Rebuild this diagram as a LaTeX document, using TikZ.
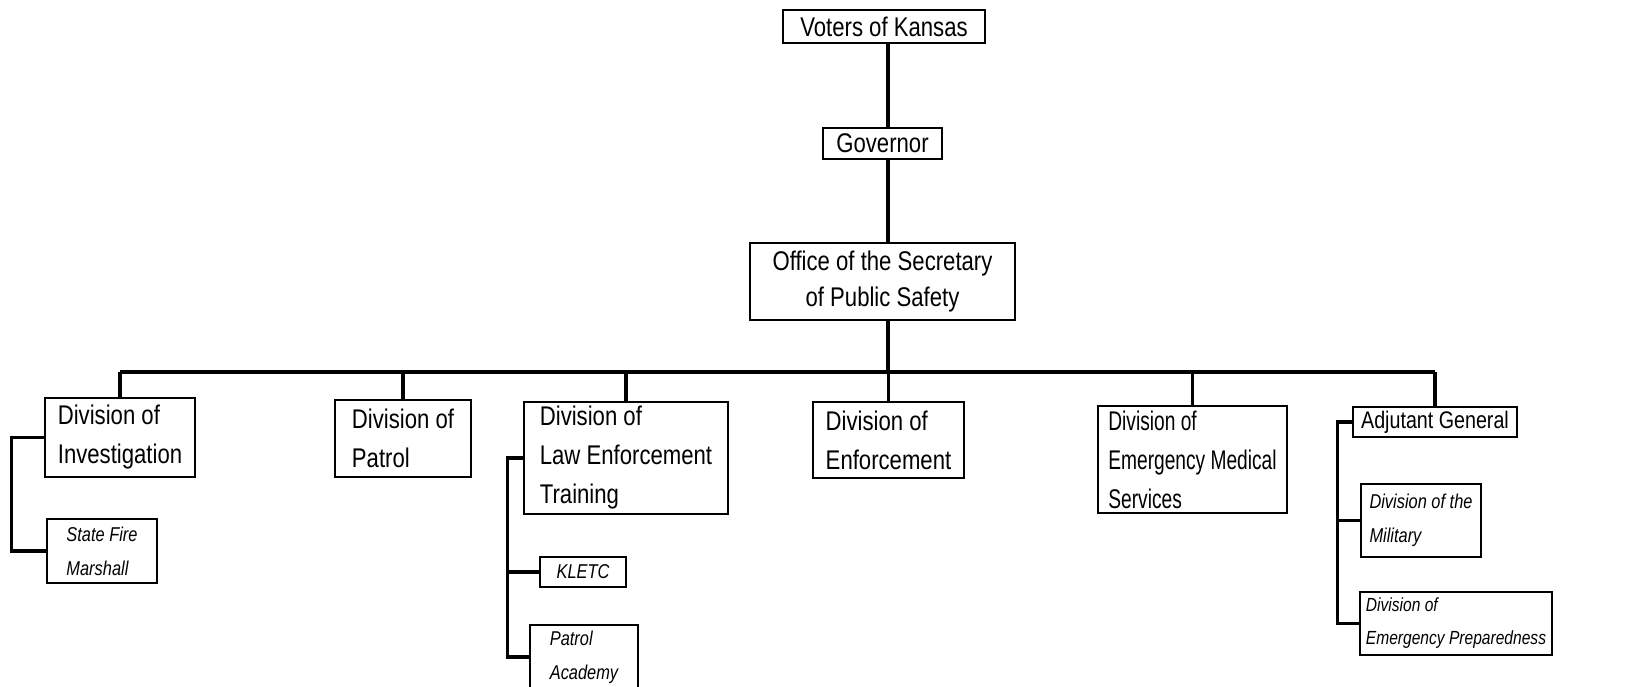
\documentclass[tikz,border=0pt]{standalone}
\usepackage{fontspec}
\setmainfont{Liberation Sans}[FakeStretch=0.82]
\newfontfamily\narrowfont{Liberation Sans}[FakeStretch=0.71]
\usepackage{tikz}

\begin{document}
\begin{tikzpicture}[x=0.5pt,y=-0.5pt,
    box/.style={draw,line width=1.4pt,inner sep=0pt,align=left},
    topbox/.style={box,align=center,font=\fontsize{13.5}{18}\selectfont},
    divbox/.style={box,font=\fontsize{13.5}{19.5}\selectfont},
    subbox/.style={box,font=\fontsize{10}{17}\selectfont\itshape},
    link/.style={line width=1.8pt}]
    \useasboundingbox (0,0) rectangle (1633,686);

    % Top of the chart
    \node[topbox,minimum width=101pt,minimum height=16.5pt] (voters) at (884,26.5) {Voters of Kansas};
    \node[topbox,minimum width=59.5pt,minimum height=15.5pt] (governor) at (882.5,143.5) {Governor};
    \node[topbox,minimum width=132.5pt,minimum height=38.5pt] (office) at (882.5,281.5) {Office of the Secretary\\of Public Safety};

    % Divisions
    \node[divbox,minimum width=75pt,minimum height=39.5pt] (invest) at (120,437.5) {Division of\\Investigation};
    \node[divbox,minimum width=68pt,minimum height=38.5pt] (patrol) at (403,438.5) {Division of\\Patrol};
    \node[divbox,minimum width=102pt,minimum height=56pt] (let) at (626,458) {Division of\\Law Enforcement\\Training};
    \node[divbox,minimum width=75.5pt,minimum height=38pt] (enforce) at (888.5,440) {Division of\\Enforcement};
    \node[divbox,font=\fontsize{13.5}{19.5}\narrowfont,minimum width=94.5pt,minimum height=53.5pt] (ems) at (1192.5,459.5) {Division of\\Emergency Medical\\Services};
    \node[box,font=\fontsize{12}{15}\selectfont,minimum width=82pt,minimum height=15pt] (adjutant) at (1435,422) {Adjutant General};

    % Units below the divisions
    \node[subbox,minimum width=55pt,minimum height=32pt] (fire) at (102,551) {State Fire\\Marshall};
    \node[subbox,minimum width=43pt,minimum height=15pt] (kletc) at (583,572) {KLETC};
    \node[subbox,minimum width=54pt,minimum height=32pt] (academy) at (584,657) {Patrol\\Academy};
    \node[subbox,minimum width=60pt,minimum height=36.5pt] (military) at (1421,520.5) {Division of the\\Military};
    \node[subbox,font=\fontsize{9.5}{16.5}\selectfont\itshape,minimum width=96pt,minimum height=31.5pt] (emprep) at (1456,623.5) {Division of\\Emergency Preparedness};

    % Trunk and bus
    \coordinate (trunk) at (888,372);
    \draw[link] (voters.south -| trunk) -- (governor.north -| trunk);
    \draw[link] (governor.south -| trunk) -- (office.north -| trunk);
    \draw[link] (office.south -| trunk) -- (trunk);
    \draw[link] (invest.north |- trunk) -- (adjutant.north |- trunk);
    \foreach \n in {invest,patrol,let,enforce,ems,adjutant} {
        \draw[link] (\n.north) -- (\n.north |- trunk);
    }

    % Side brackets
    \draw[link] (invest.west) -- ++(-32,0) coordinate (investbar) |- (fire.west);
    \draw[link] (let.west) -- ++(-15,0) coordinate (letbar) |- (academy.west);
    \draw[link] (kletc.west) -- (kletc.west -| letbar);
    \draw[link] (adjutant.west) -- ++(-14,0) coordinate (adjbar) |- (emprep.west);
    \draw[link] (military.west) -- (military.west -| adjbar);
\end{tikzpicture}
\end{document}
